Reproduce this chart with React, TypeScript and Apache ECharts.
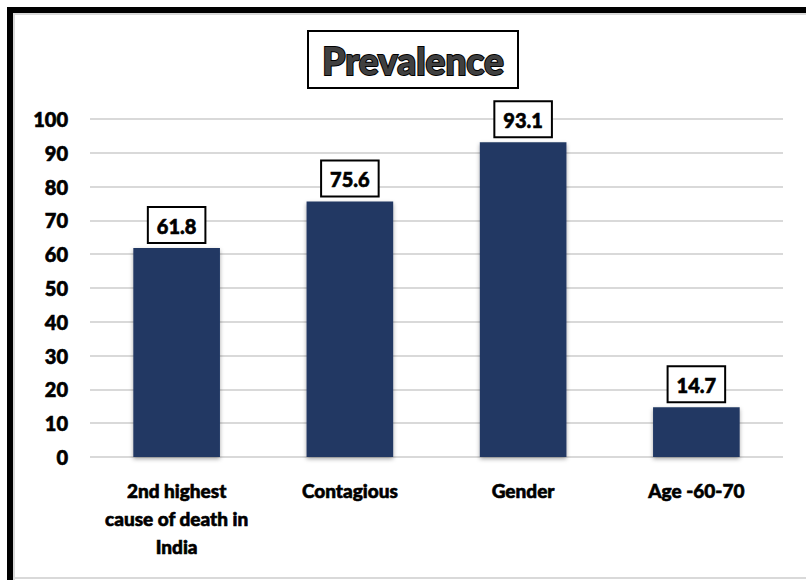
import React, { useEffect, useRef } from "react";
import * as echarts from "echarts";

const categories = ["2nd highest\ncause of death in\nIndia", "Contagious", "Gender", "Age -60-70"];
const values = [61.8, 75.6, 93.1, 14.7];
const titleText = "Prevalence";

const FONT = "Lato, 'Open Sans', sans-serif";

export default function App() {
  const ref = useRef<HTMLDivElement>(null);
  useEffect(() => {
    if (!ref.current) return;
    const chart = echarts.init(ref.current, null, { renderer: "svg" });
    chart.setOption({
      animation: false,
      backgroundColor: "#ffffff",
      grid: { left: 90, right: 23, top: 119, bottom: 123, containLabel: false },
      xAxis: {
        type: "category",
        data: categories,
        axisLine: { show: false },
        axisTick: { show: false },
        axisLabel: {
          color: "#000",
          fontFamily: FONT,
          fontWeight: 900,
          fontSize: 19,
          lineHeight: 28,
          margin: 19,
          interval: 0,
          textBorderColor: "#000",
          textBorderWidth: 0.6,
        },
      },
      yAxis: {
        type: "value",
        min: 0,
        max: 100,
        interval: 10,
        axisLine: { show: false },
        axisTick: { show: false },
        splitLine: { lineStyle: { color: "#d9d9d9", width: 2 } },
        axisLabel: {
          color: "#000",
          fontFamily: FONT,
          fontWeight: 900,
          fontSize: 20,
          margin: 22,
          textBorderColor: "#000",
          textBorderWidth: 0.6,
        },
      },
      series: [
        {
          type: "bar",
          data: values,
          barWidth: "50%",
          itemStyle: {
            color: "#203864",
            shadowBlur: 4,
            shadowColor: "rgba(0,0,0,0.35)",
            shadowOffsetY: 2,
          },
          label: {
            show: true,
            position: "top",
            distance: 6,
            color: "#000",
            fontFamily: FONT,
            fontWeight: 900,
            fontSize: 20,
            textBorderColor: "#000",
            textBorderWidth: 0.6,
            backgroundColor: "#fff",
            borderColor: "#000",
            borderWidth: 2,
            padding: [8, 8, 6, 8],
            formatter: (p: any) => p.value.toFixed(1),
          },
        },
      ],
      graphic: [
        { type: "rect", shape: { x: 7, y: 7, width: 799, height: 6 }, style: { fill: "#000" } },
        { type: "rect", shape: { x: 7, y: 7, width: 6, height: 573 }, style: { fill: "#000" } },
        { type: "rect", shape: { x: 13, y: 13, width: 793, height: 2 }, style: { fill: "#d9d9d9" } },
        { type: "rect", shape: { x: 13, y: 13, width: 2, height: 567 }, style: { fill: "#d9d9d9" } },
        { type: "rect", shape: { x: 13, y: 577, width: 793, height: 2 }, style: { fill: "#d9d9d9" } },
        {
          type: "rect",
          shape: { x: 308, y: 31, width: 210, height: 57 },
          style: { fill: "#fff", stroke: "#000", lineWidth: 2 },
        },
        {
          type: "text",
          x: 413,
          y: 60,
          style: {
            text: titleText,
            fontFamily: FONT,
            fontWeight: 900,
            fontSize: 37,
            fill: "#404040",
            stroke: "#000",
            lineWidth: 2,
            textAlign: "center",
            textVerticalAlign: "middle",
            shadowBlur: 3,
            shadowColor: "rgba(0,0,0,0.5)",
            shadowOffsetX: 1,
            shadowOffsetY: 1,
          },
        },
      ],
    });
    return () => chart.dispose();
  }, []);
  return (
    <div
      ref={ref}
      style={{ position: "absolute", left: 0, top: 0, width: 806, height: 580 }}
    />
  );
}
